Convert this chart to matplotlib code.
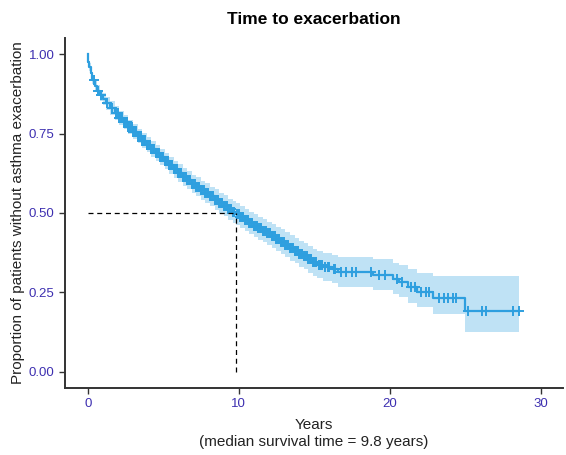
import matplotlib
matplotlib.use("Agg")
import matplotlib.pyplot as plt
import numpy as np

# Kaplan-Meier estimate
event_times = [0, 0.05, 0.1, 0.2, 0.3, 0.45, 0.6, 0.8, 1.0, 1.2, 1.5, 1.8, 2.1, 2.4,
               2.7, 3.0, 3.3, 3.6, 3.9, 4.2, 4.5, 4.8, 5.1, 5.4, 5.7, 6.0, 6.3, 6.6,
               6.9, 7.2, 7.5, 7.8, 8.1, 8.4, 8.7, 9.0, 9.3, 9.6, 9.8, 10.1, 10.4, 10.7,
               11.0, 11.3, 11.6, 11.9, 12.2, 12.5, 12.8, 13.1, 13.4, 13.7, 14.0, 14.3,
               14.6, 14.9, 15.2, 15.6, 16.2, 16.6, 18.9, 20.2, 20.6, 21.2, 21.8, 22.9,
               25.0, 28.6]
survival = [1.0, 0.975, 0.96, 0.94, 0.92, 0.90, 0.885, 0.87, 0.858, 0.845, 0.83, 0.815,
            0.80, 0.785, 0.77, 0.756, 0.742, 0.728, 0.715, 0.702, 0.689, 0.676, 0.663,
            0.65, 0.638, 0.626, 0.614, 0.603, 0.592, 0.582, 0.572, 0.562, 0.552, 0.542,
            0.532, 0.522, 0.512, 0.503, 0.497, 0.487, 0.478, 0.469, 0.46, 0.452, 0.444,
            0.436, 0.427, 0.418, 0.409, 0.40, 0.39, 0.381, 0.372, 0.363, 0.354, 0.345,
            0.337, 0.33, 0.322, 0.313, 0.305, 0.292, 0.283, 0.267, 0.25, 0.232, 0.192,
            0.192]
upper = [1.0, 0.985, 0.972, 0.953, 0.935, 0.916, 0.902, 0.888, 0.877, 0.865, 0.851,
         0.836, 0.822, 0.807, 0.792, 0.779, 0.765, 0.752, 0.739, 0.727, 0.714, 0.701,
         0.689, 0.677, 0.665, 0.654, 0.642, 0.632, 0.621, 0.612, 0.602, 0.593, 0.583,
         0.574, 0.564, 0.555, 0.545, 0.537, 0.531, 0.521, 0.513, 0.504, 0.496, 0.488,
         0.481, 0.473, 0.465, 0.456, 0.448, 0.439, 0.430, 0.421, 0.413, 0.404, 0.396,
         0.387, 0.380, 0.374, 0.368, 0.360, 0.355, 0.343, 0.336, 0.322, 0.311, 0.302,
         0.302, 0.302]
lower = [1.0, 0.965, 0.948, 0.927, 0.905, 0.884, 0.868, 0.852, 0.839, 0.825, 0.809,
         0.794, 0.778, 0.763, 0.748, 0.733, 0.719, 0.704, 0.691, 0.677, 0.664, 0.651,
         0.637, 0.623, 0.611, 0.598, 0.586, 0.574, 0.563, 0.552, 0.542, 0.531, 0.521,
         0.510, 0.500, 0.489, 0.479, 0.469, 0.463, 0.453, 0.443, 0.434, 0.424, 0.416,
         0.407, 0.399, 0.389, 0.380, 0.370, 0.361, 0.350, 0.341, 0.331, 0.322, 0.312,
         0.303, 0.294, 0.287, 0.278, 0.267, 0.258, 0.244, 0.234, 0.216, 0.205, 0.182,
         0.126, 0.126]

# censored follow-up times (dense in the middle, sparse in the tail)
censor_times = [0.4, 0.7, 0.9, 1.3, 1.6, 1.9, 2.0, 2.1, 2.2, 2.3, 2.4, 2.5, 2.6,
                2.7, 2.8, 2.9, 3.0, 3.1, 3.2, 3.3, 3.4, 3.5, 3.6, 3.7, 3.8, 3.9,
                4.0, 4.1, 4.2, 4.3, 4.4, 4.5, 4.6, 4.7, 4.8, 4.9, 5.0, 5.1, 5.2,
                5.3, 5.4, 5.5, 5.6, 5.7, 5.8, 5.9, 6.0, 6.1, 6.2, 6.3, 6.4, 6.5,
                6.6, 6.7, 6.8, 6.9, 7.0, 7.1, 7.2, 7.3, 7.4, 7.5, 7.6, 7.7, 7.8,
                7.9, 8.0, 8.1, 8.2, 8.3, 8.4, 8.5, 8.6, 8.7, 8.8, 8.9, 9.0, 9.1,
                9.2, 9.3, 9.4, 9.5, 9.6, 9.7, 9.9, 10.0, 10.1, 10.2, 10.3, 10.4,
                10.5, 10.6, 10.7, 10.8, 10.9, 11.0, 11.1, 11.2, 11.3, 11.4, 11.5,
                11.6, 11.7, 11.8, 11.9, 12.0, 12.1, 12.2, 12.3, 12.4, 12.5, 12.6,
                12.7, 12.8, 12.9, 13.0, 13.1, 13.2, 13.3, 13.4, 13.5, 13.6, 13.7,
                13.8, 13.9, 14.0, 14.1, 14.2, 14.3, 14.4, 14.5, 14.6, 14.7, 14.8,
                14.9, 15.0, 15.1, 15.3, 15.4, 15.5, 15.7, 15.9, 16.0, 16.3, 16.4,
                16.8, 17.1, 17.5, 17.8, 18.8, 19.3, 19.7, 20.5, 20.8, 21.4, 21.7,
                22.1, 22.4, 22.6, 23.3, 23.6, 23.9, 24.2, 24.4, 25.2, 26.1, 26.4,
                28.2, 28.6]

median_time = 9.8
median_surv = 0.5

x_ticks = [0, 10, 20, 30]
y_ticks = [0.00, 0.25, 0.50, 0.75, 1.00]

line_color = "#2E9FDF"
tick_color = "#3D2FB0"
axis_color = "#333333"

plt.rcParams["font.family"] = ["Liberation Sans", "DejaVu Sans"]

fig = plt.figure(figsize=(5.66, 4.55), dpi=100)
ax = fig.add_axes([0.115, 0.148, 0.88, 0.768])

t = np.array(event_times)
s = np.array(survival)
ax.fill_between(t, lower, upper, step="post", color=line_color, alpha=0.3, lw=0)
ax.step(t, s, where="post", color=line_color, lw=1.6)

# censor marks sit on the step curve
ct = np.array(censor_times)
idx = np.searchsorted(t, ct, side="right") - 1
ax.plot(ct, s[idx], ls="none", marker="+", ms=7, mew=1.4, color=line_color)

ax.plot([0, median_time], [median_surv, median_surv], color="black", lw=0.9,
        ls=(0, (4, 3)))
ax.plot([median_time, median_time], [0, median_surv], color="black", lw=0.9,
        ls=(0, (4, 3)))

ax.set_xlim(-1.5, 31.5)
ax.set_ylim(-0.05, 1.05)
ax.set_xticks(x_ticks)
ax.set_yticks(y_ticks)
ax.set_yticklabels([f"{v:.2f}" for v in y_ticks])
ax.tick_params(colors=axis_color, labelcolor=tick_color, labelsize=9.5, length=4,
               width=1.0)

for side in ["top", "right"]:
    ax.spines[side].set_visible(False)
for side in ["left", "bottom"]:
    ax.spines[side].set_color(axis_color)
    ax.spines[side].set_linewidth(1.4)

ax.set_title("Time to exacerbation", fontsize=12.5, fontweight="bold", pad=10)
ax.set_xlabel("Years\n(median survival time = 9.8 years)", fontsize=11,
              color="#222222", labelpad=6)
ax.set_ylabel("Proportion of patients without asthma exacerbation", fontsize=11,
              color="#222222", labelpad=3)

fig.savefig("out.png", dpi=100)
